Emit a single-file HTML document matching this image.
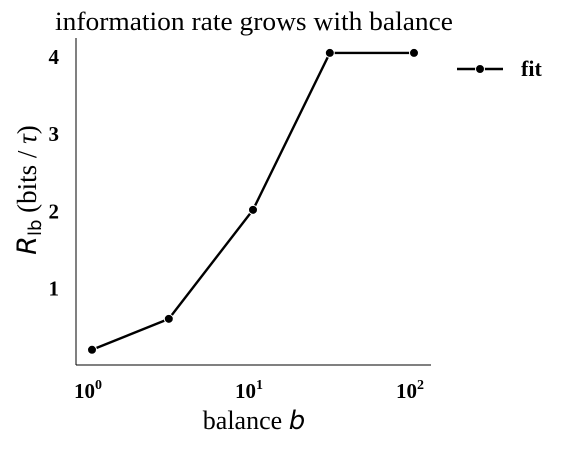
<!DOCTYPE html>
<html><head><meta charset="utf-8"><style>
html,body{margin:0;padding:0;background:#fff;}
svg text{font-family:"Liberation Serif","DejaVu Serif",serif;fill:#000;}
</style></head><body>
<svg id="chart" width="563" height="446" xmlns="http://www.w3.org/2000/svg">
<text x="254" y="30" font-size="26" text-anchor="middle" textLength="398" lengthAdjust="spacingAndGlyphs">information rate grows with balance</text>
<g id="axes"></g>
<g id="marks"></g>
<g>
<line x1="457" y1="69" x2="503" y2="69" stroke="#000" stroke-width="2.4"/>
<circle cx="480" cy="69" r="4.5" fill="#000" stroke="#fff" stroke-width="1"/>
<text x="521" y="76" font-size="22" font-weight="bold">fit</text>
</g>
<text x="254" y="429" font-size="26" text-anchor="middle">balance <tspan font-style="italic" font-family="DejaVu Sans, sans-serif">b</tspan></text>
<text transform="translate(36,190) rotate(-90)" font-size="27" text-anchor="middle"><tspan font-style="italic" font-family="DejaVu Sans, sans-serif">R</tspan><tspan font-size="18" dy="5" font-family="DejaVu Sans, sans-serif">lb</tspan><tspan dy="-5">  (bits / </tspan><tspan font-style="italic">τ</tspan>)</text>
</svg>
<script>
const xValues = [1, 3, 10, 30, 100];
const yValues = [0.21, 0.61, 2.02, 4.05, 4.05];
const xTickValues = [0, 1, 2];
const yTickValues = [1, 2, 3, 4];
const yTickLabels = ["1", "2", "3", "4"];

const NS = "http://www.w3.org/2000/svg";
const sx = v => 92 + Math.log10(v) * 161;
const sy = v => 366 - v * 77.3;
const axes = document.getElementById('axes');
const marks = document.getElementById('marks');
function mk(tag, attrs, parent) {
  const e = document.createElementNS(NS, tag);
  for (const k in attrs) e.setAttribute(k, attrs[k]);
  parent.appendChild(e);
  return e;
}
const yAxis = mk('line', {x1: 76, y1: 38, x2: 76, y2: 365, stroke: '#000', 'stroke-width': 1}, axes);


const xAxis = mk('line', {x1: 76, y1: 365, x2: 431, y2: 365, stroke: '#000', 'stroke-width': 1}, axes);


yTickValues.forEach((v, i) => {
  const t = mk('text', {x: 59, y: sy(v) + 7, 'font-size': 21, 'font-weight': 'bold', 'text-anchor': 'end'}, axes);
  t.textContent = yTickLabels[i];
  
  
});
xTickValues.forEach(p => {
  const t = mk('text', {x: sx(Math.pow(10, p)) - 4, y: 398, 'font-size': 21, 'font-weight': 'bold', 'text-anchor': 'middle'}, axes);
  t.textContent = '10';
  const s = mk('tspan', {dy: -9, 'font-size': 14}, t);
  s.textContent = String(p);
  
  
});
const pts = xValues.map((x, i) => sx(x) + ',' + sy(yValues[i])).join(' ');
const line = mk('polyline', {points: pts, fill: 'none', stroke: '#000', 'stroke-width': 2.4}, marks);


xValues.forEach((x, i) => {
  const c = mk('circle', {cx: sx(x), cy: sy(yValues[i]), r: 4.5, fill: '#000', stroke: '#fff', 'stroke-width': 1}, marks);
  
  
});
</script>
</body></html>
